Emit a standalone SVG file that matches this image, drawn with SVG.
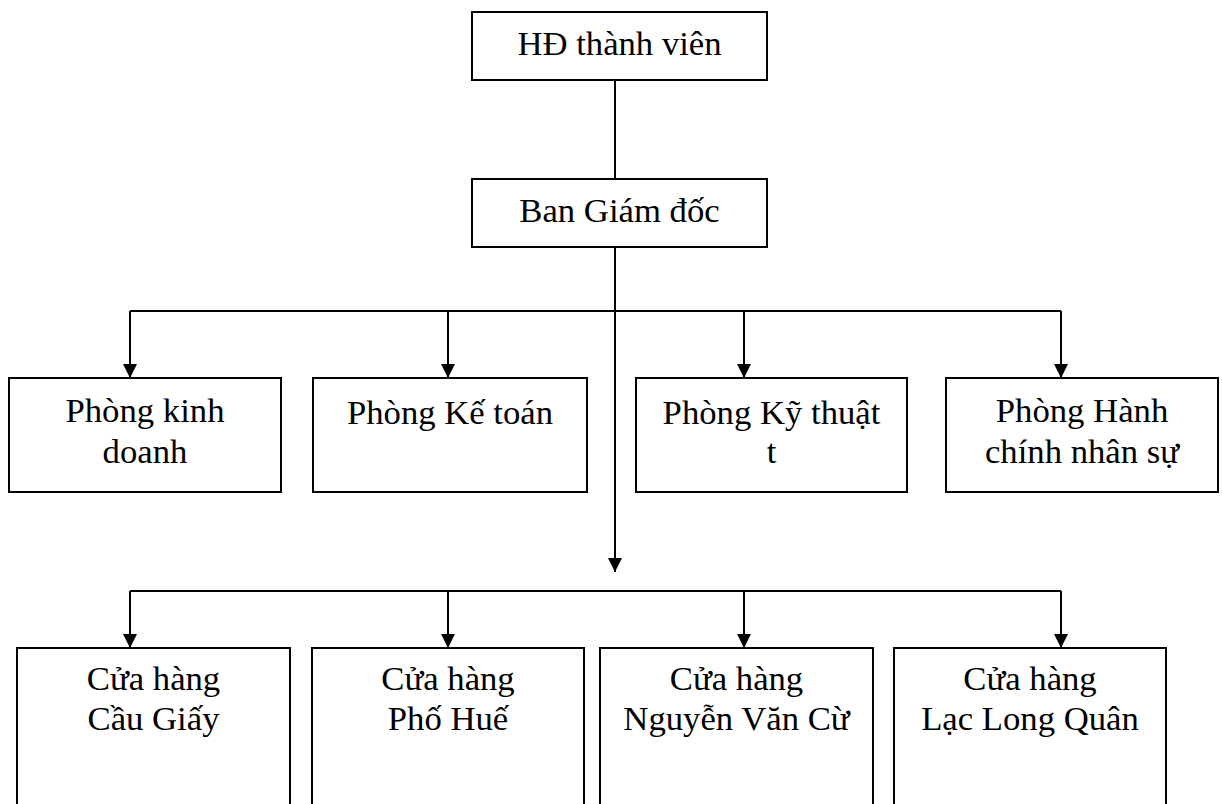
<svg xmlns="http://www.w3.org/2000/svg" width="1222" height="804" viewBox="0 0 1222 804">
  <style>
    .box { fill: #ffffff; stroke: #000000; stroke-width: 2; }
    .lbl { font-family: "Liberation Serif", "Times New Roman", serif; font-size: 34.7px; fill: #000000; text-anchor: middle; }
    .conn { fill: none; stroke: #000000; stroke-width: 2; }
  </style>
  <defs>
    <marker id="arrow" markerUnits="userSpaceOnUse" markerWidth="14" markerHeight="14" viewBox="0 0 14 14" refX="14" refY="7" orient="auto">
      <path d="M0,0 L14,7 L0,14 z" fill="#000000"/>
    </marker>
  </defs>
  <rect width="1222" height="804" fill="#ffffff"/>

  <g id="connectors">
    <line class="conn" x1="615" y1="80" x2="615" y2="179"/>
    <line class="conn" x1="615" y1="247" x2="615" y2="572" marker-end="url(#arrow)"/>
    <polyline class="conn" points="130,311 1061,311"/>
    <line class="conn" x1="130" y1="311" x2="130" y2="378" marker-end="url(#arrow)"/>
    <line class="conn" x1="448" y1="311" x2="448" y2="378" marker-end="url(#arrow)"/>
    <line class="conn" x1="744" y1="311" x2="744" y2="378" marker-end="url(#arrow)"/>
    <line class="conn" x1="1061" y1="311" x2="1061" y2="378" marker-end="url(#arrow)"/>
    <polyline class="conn" points="130,591 1061,591"/>
    <line class="conn" x1="130" y1="591" x2="130" y2="648" marker-end="url(#arrow)"/>
    <line class="conn" x1="448" y1="591" x2="448" y2="648" marker-end="url(#arrow)"/>
    <line class="conn" x1="744" y1="591" x2="744" y2="648" marker-end="url(#arrow)"/>
    <line class="conn" x1="1061" y1="591" x2="1061" y2="648" marker-end="url(#arrow)"/>
  </g>

  <g id="hd-thanh-vien">
    <rect class="box" x="472" y="12" width="295" height="68"/>
    <text class="lbl" x="619.5" y="55">HĐ thành viên</text>
  </g>
  <g id="ban-giam-doc">
    <rect class="box" x="472" y="179" width="295" height="68"/>
    <text class="lbl" x="619.5" y="222">Ban Giám đốc</text>
  </g>

  <g id="phong-kinh-doanh">
    <rect class="box" x="9" y="378" width="272" height="114"/>
    <text class="lbl" x="145" y="422">Phòng kinh</text>
    <text class="lbl" x="145" y="463">doanh</text>
  </g>
  <g id="phong-ke-toan">
    <rect class="box" x="313" y="378" width="274" height="114"/>
    <text class="lbl" x="450" y="424">Phòng Kế toán</text>
  </g>
  <g id="phong-ky-thuat">
    <rect class="box" x="636" y="378" width="271" height="114"/>
    <text class="lbl" x="771.5" y="424">Phòng Kỹ thuật</text>
    <text class="lbl" x="771.5" y="463">t</text>
  </g>
  <g id="phong-hanh-chinh">
    <rect class="box" x="946" y="378" width="272" height="114"/>
    <text class="lbl" x="1082" y="422">Phòng Hành</text>
    <text class="lbl" x="1082" y="463">chính nhân sự</text>
  </g>

  <g id="cua-hang-cau-giay">
    <rect class="box" x="17" y="648" width="273" height="170"/>
    <text class="lbl" x="153.5" y="690">Cửa hàng</text>
    <text class="lbl" x="153.5" y="730">Cầu Giấy</text>
  </g>
  <g id="cua-hang-pho-hue">
    <rect class="box" x="312" y="648" width="272" height="170"/>
    <text class="lbl" x="448" y="690">Cửa hàng</text>
    <text class="lbl" x="448" y="730">Phố Huế</text>
  </g>
  <g id="cua-hang-nguyen-van-cu">
    <rect class="box" x="600" y="648" width="273" height="170"/>
    <text class="lbl" x="736.5" y="690">Cửa hàng</text>
    <text class="lbl" x="736.5" y="730">Nguyễn Văn Cừ</text>
  </g>
  <g id="cua-hang-lac-long-quan">
    <rect class="box" x="894" y="648" width="272" height="170"/>
    <text class="lbl" x="1030" y="690">Cửa hàng</text>
    <text class="lbl" x="1030" y="730">Lạc Long Quân</text>
  </g>
</svg>
